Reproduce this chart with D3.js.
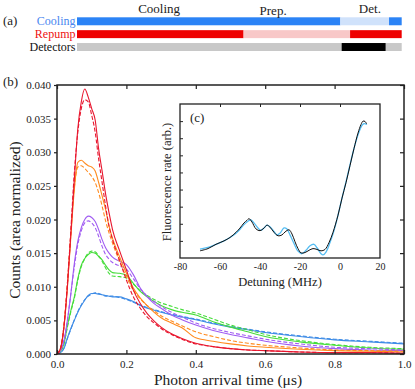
<!DOCTYPE html>
<html>
<head>
<meta charset="utf-8">
<script src="https://cdn.jsdelivr.net/npm/d3@7"></script>
<style>
  body { margin: 0; background: #fff; }
  svg { display: block; }
  svg text { font-family: "Liberation Serif", "DejaVu Serif", serif; }
</style>
</head>
<body>
<div id="chart"></div>
<script>
// ---- (a) timing sequence, in % of the cycle ----
const seqRows = ['Cooling', 'Repump', 'Detectors'];
const coolingSegs = [[0, 81.1, 'on'], [81.1, 96.1, 'off'], [96.1, 100, 'on']];
const repumpSegs = [[0, 51.3, 'on'], [51.3, 84.1, 'off'], [84.1, 100, 'on']];
const detectorSegs = [[0, 81.5, 'off'], [81.5, 95.1, 'on'], [95.1, 100, 'off']];
const phaseNames = ['Cooling', 'Prep.', 'Det.'];
const phaseCenters = [25.3, 60.4, 90.2];

// ---- (b) arrival-time histograms ----
const tGrid = [0, 0.01, 0.02, 0.03, 0.04, 0.05, 0.06, 0.07, 0.08, 0.09, 0.10, 0.11, 0.12, 0.13, 0.14, 0.15, 0.16, 0.18,
    0.20, 0.22, 0.24, 0.26, 0.28, 0.30, 0.33, 0.36, 0.40, 0.45, 0.50, 0.55, 0.60, 0.70, 0.80, 0.90, 1.00];

const blueSolid = [0, .0002, .0008, .0024, .0038, .0050, .0062, .0072, .0080, .0087, .0090, .0090, .0089, .0088, .0087, .0086,
    .0085, .0085, .0082, .0078, .0072, .0068, .0065, .0062, .0058, .0055, .0051, .0045, .0040, .0036, .0032, .0026, .0021, .0018, .0015];
const blueDashed = [0, .0002, .0009, .0023, .0037, .0051, .0063, .0073, .0081, .0086, .0089, .0091, .0090, .0088, .0086, .0086,
    .0086, .0084, .0081, .0077, .0073, .0069, .0066, .0063, .0059, .0056, .0052, .0046, .0041, .0037, .0033, .0027, .0022, .0019, .0016];
const greenSolid = [0, .0004, .0015, .0042, .0065, .0085, .0112, .0132, .0142, .0148, .0151, .0150, .0145, .0140, .0132, .0125,
    .0121, .0120, .0117, .0105, .0093, .0085, .0078, .0072, .0066, .0062, .0058, .0048, .0040, .0033, .0026, .0018, .0013, .0009, .0007];
const greenDashed = [0, .0004, .0015, .0040, .0063, .0083, .0110, .0130, .0142, .0150, .0153, .0152, .0146, .0138, .0128, .0120,
    .0116, .0115, .0113, .0104, .0094, .0087, .0081, .0076, .0071, .0066, .0061, .0052, .0043, .0036, .0029, .0020, .0014, .0010, .0008];
const purpleSolid = [0, .0005, .0020, .0050, .0090, .0135, .0168, .0188, .0200, .0205, .0203, .0197, .0185, .0170, .0158, .0150,
    .0144, .0138, .0133, .0118, .0098, .0085, .0075, .0068, .0058, .0051, .0043, .0035, .0029, .0024, .0019, .0012, .0008, .0006, .0005];
const purpleDashed = [0, .0005, .0020, .0050, .0090, .0130, .0163, .0183, .0195, .0198, .0195, .0188, .0175, .0160, .0148, .0141,
    .0136, .0131, .0126, .0112, .0097, .0086, .0078, .0071, .0062, .0055, .0046, .0038, .0032, .0027, .0022, .0015, .0010, .0008, .0006];
const orangeSolid = [0, .0008, .0040, .0100, .0175, .0245, .0285, .0288, .0284, .0280, .0278, .0272, .0255, .0235, .0215, .0190,
    .0172, .0145, .0120, .0098, .0083, .0072, .0062, .0054, .0046, .0039, .0024, .0019, .0015, .0012, .0010, .0007, .0005, .0004, .0003];
const orangeDashed = [0, .0008, .0042, .0105, .0180, .0248, .0278, .0280, .0276, .0270, .0264, .0255, .0240, .0220, .0198, .0180,
    .0165, .0138, .0115, .0095, .0082, .0072, .0064, .0057, .0049, .0042, .0033, .0026, .0020, .0016, .0013, .0009, .0006, .0005, .0004];
const redSolid = [0, .0008, .0040, .0100, .0180, .0260, .0335, .0375, .0394, .0382, .0365, .0348, .0305, .0272, .0238, .0210,
    .0185, .0154, .0125, .0095, .0075, .0060, .0049, .0040, .0030, .0023, .0016, .0011, .0008, .0006, .0005, .0003, .0002, .0002, .0001];
const redDashed = [0, .0008, .0042, .0105, .0185, .0270, .0330, .0365, .0378, .0375, .0355, .0330, .0290, .0255, .0220, .0190,
    .0170, .0140, .0110, .0085, .0068, .0055, .0046, .0038, .0029, .0022, .0015, .0011, .0008, .0006, .0005, .0003, .0002, .0002, .0001];

const seriesColors = ['#3d8be6', '#45dd3a', '#a05cf2', '#ff8a1e', '#e8162e'];
const seriesSolid = [blueSolid, greenSolid, purpleSolid, orangeSolid, redSolid];
const seriesDashed = [blueDashed, greenDashed, purpleDashed, orangeDashed, redDashed];

const xTicks = [0, 0.2, 0.4, 0.6, 0.8, 1.0];
const yTicks = [0, 0.005, 0.01, 0.015, 0.02, 0.025, 0.03, 0.035, 0.04];

// ---- (c) fluorescence vs detuning ----
const exptDet = [-70, -66, -62, -58, -55, -52, -50, -48, -46.5, -45.5, -44, -42, -40, -38, -36.5, -35, -33, -31, -29, -27.5,
    -25.5, -24, -22.5, -21, -19.5, -17.5, -15.5, -13.5, -11.5, -9.5, -7.5, -5.5, -3.5, -1, 1, 3, 5, 7, 9, 10.5, 11.5, 12.5, 13.3];
const exptRate = [.42, .55, .80, 1.0, 1.2, 1.5, 1.75, 2.05, 2.2, 2.3, 2.1, 1.7, 1.6, 1.75, 1.92, 1.8, 1.5, 1.3, 1.35, 1.52,
    1.65, 1.4, .95, .55, .3, .32, .45, .55, .5, .42, .5, .9, 1.5, 2.5, 3.5, 4.4, 5.4, 6.4, 7.3, 7.8, 8.0, 7.98, 7.84];
const theoryDet = [-70, -66, -62, -58, -55, -52, -50, -48, -46, -44.5, -43, -41, -39.5, -38, -36.5, -35, -33, -31.5, -30, -28,
    -26.5, -25, -23, -21, -19, -17, -15, -13, -11.5, -9.5, -8.5, -7, -5, -3, -1, 1, 3, 5, 7, 9, 11, 12, 13.5];
const theoryRate = [.52, .62, .80, 1.0, 1.2, 1.45, 1.68, 1.95, 2.15, 2.23, 2.05, 1.75, 1.62, 1.75, 1.92, 1.82, 1.55, 1.35, 1.45, 1.76,
    1.7, 1.35, .85, .4, .25, .45, .72, .8, .6, .25, .18, .35, .9, 1.6, 2.5, 3.5, 4.45, 5.45, 6.4, 7.2, 7.75, 7.85, 7.8];
const insetXTicks = [-80, -60, -40, -20, 0, 20];
const insetYTicks = [1, 2, 3, 4, 5, 6, 7, 8];

const W = 415, H = 389;
const FONT = '"Liberation Serif", "DejaVu Serif", serif';
const svg = d3.select('#chart').append('svg').attr('width', W).attr('height', H).attr('font-family', FONT);
const ink = '#222';

// ================= (a) =================
const seqX = d3.scaleLinear().domain([0, 100]).range([77, 401.7]);
const rowY = d3.scaleBand().domain(seqRows).range([17.3, 51]).paddingInner(0.38);
const rowColors = {
    Cooling: { on: '#2b83f6', off: '#d0e2fb', label: '#4a86f0' },
    Repump: { on: '#ee0000', off: '#f8c8c8', label: '#ee1010' },
    Detectors: { on: '#000000', off: '#c8c8c8', label: '#111' },
};
const rowSegs = { Cooling: coolingSegs, Repump: repumpSegs, Detectors: detectorSegs };

svg.append('text').attr('x', 3).attr('y', 25).attr('font-size', 13).attr('fill', ink).text('(a)');

seqRows.forEach((r) => {
    const g = svg.append('g');
    g.selectAll('rect')
        .data(rowSegs[r])
        .enter()
        .append('rect')
        .attr('x', (d) => seqX(d[0]))
        .attr('width', (d) => seqX(d[1]) - seqX(d[0]))
        .attr('y', rowY(r))
        .attr('height', rowY.bandwidth())
        .attr('fill', (d) => rowColors[r][d[2]]);
    g.append('text')
        .attr('x', 75.5)
        .attr('y', rowY(r) + rowY.bandwidth() - 0.5)
        .attr('text-anchor', 'end')
        .attr('font-size', 12)
        .attr('fill', rowColors[r].label)
        .text(r);
});

svg.selectAll('.phase')
    .data(phaseNames)
    .enter()
    .append('text')
    .attr('class', 'phase')
    .attr('x', (d, i) => seqX(phaseCenters[i]))
    .attr('y', (d, i) => (i === 1 ? 15 : 12.5))
    .attr('text-anchor', 'middle')
    .attr('font-size', 13)
    .attr('fill', ink)
    .text((d) => d);

// ================= (b) =================
const x = d3.scaleLinear().domain([0, 1]).range([57, 404]);
const y = d3.scaleLinear().domain([0, 0.04]).range([354, 85]);

svg.append('text').attr('x', 3).attr('y', 86).attr('font-size', 13).attr('fill', ink).text('(b)');

const line = d3
    .line()
    .x((d, i) => x(tGrid[i]))
    .y((d) => y(d))
    .curve(d3.curveMonotoneX);

const curves = svg.append('g');
seriesColors.forEach((c, k) => {
    curves.append('path').attr('d', line(seriesDashed[k])).attr('fill', 'none').attr('stroke', c)
        .attr('stroke-width', 1.1).attr('stroke-dasharray', '4,2');
    curves.append('path').attr('d', line(seriesSolid[k])).attr('fill', 'none').attr('stroke', c)
        .attr('stroke-width', 1.1);
});

// axes: left ticks outward, others inward
const axB = svg.append('g').attr('transform', 'translate(0,354)')
    .call(d3.axisBottom(x).tickValues(xTicks).tickFormat(d3.format('.1f')).tickSizeInner(-4).tickSizeOuter(0).tickPadding(6));
const axT = svg.append('g').attr('transform', 'translate(0,85)')
    .call(d3.axisTop(x).tickValues(xTicks).tickFormat('').tickSizeInner(-4).tickSizeOuter(0));
const axL = svg.append('g').attr('transform', 'translate(57,0)')
    .call(d3.axisLeft(y).tickValues(yTicks).tickFormat(d3.format('.3f')).tickSizeInner(3).tickSizeOuter(0).tickPadding(3));
const axR = svg.append('g').attr('transform', 'translate(404,0)')
    .call(d3.axisRight(y).tickValues(yTicks).tickFormat('').tickSizeInner(-4).tickSizeOuter(0));
[axB, axT, axL, axR].forEach((a) => {
    a.attr('font-family', FONT);
    a.select('.domain').remove();
    a.selectAll('line').attr('stroke', ink).attr('stroke-width', 1.2);
    a.selectAll('text').attr('font-size', 11).attr('fill', ink);
});

svg.append('rect').attr('x', 57).attr('y', 85).attr('width', 347).attr('height', 269)
    .attr('fill', 'none').attr('stroke', ink).attr('stroke-width', 1.5);

svg.append('text').attr('x', 228).attr('y', 385).attr('text-anchor', 'middle')
    .attr('font-size', 15.5).attr('fill', ink).text('Photon arrival time (\u03bcs)');
svg.append('text').attr('transform', 'translate(20,220) rotate(-90)').attr('text-anchor', 'middle')
    .attr('font-size', 15.5).attr('fill', ink).text('Counts (area normalized)');

// ================= (c) inset =================
const ix = d3.scaleLinear().domain([-80, 20]).range([180, 380]);
const iy = d3.scaleLinear().domain([0, 9]).range([258, 104]);

svg.append('rect').attr('x', 180).attr('y', 104).attr('width', 200).attr('height', 154).attr('fill', '#fff');

const iLine = d3.line().curve(d3.curveCatmullRom);
svg.append('path')
    .attr('d', iLine(theoryDet.map((d, i) => [ix(d), iy(theoryRate[i])])))
    .attr('fill', 'none').attr('stroke', '#55bdf2').attr('stroke-width', 1.3);
svg.append('path')
    .attr('d', iLine(exptDet.map((d, i) => [ix(d), iy(exptRate[i])])))
    .attr('fill', 'none').attr('stroke', '#111').attr('stroke-width', 1);

const iB = svg.append('g').attr('transform', 'translate(0,258)')
    .call(d3.axisBottom(ix).tickValues(insetXTicks).tickFormat((d) => String(d)).tickSize(0).tickPadding(5));
const iT = svg.append('g').attr('transform', 'translate(0,104)')
    .call(d3.axisTop(ix).tickValues(insetXTicks.slice(1, -1)).tickFormat('').tickSizeInner(-3).tickSizeOuter(0));
const iL = svg.append('g').attr('transform', 'translate(180,0)')
    .call(d3.axisLeft(iy).tickValues(insetYTicks).tickFormat('').tickSizeInner(-3).tickSizeOuter(0));
[iB, iT, iL].forEach((a) => {
    a.attr('font-family', FONT);
    a.select('.domain').remove();
    a.selectAll('line').attr('stroke', ink).attr('stroke-width', 1);
    a.selectAll('text').attr('font-size', 10).attr('fill', ink);
});
svg.append('rect').attr('x', 180).attr('y', 104).attr('width', 200).attr('height', 154)
    .attr('fill', 'none').attr('stroke', ink).attr('stroke-width', 1.3);

svg.append('text').attr('x', 190).attr('y', 122).attr('font-size', 13).attr('fill', ink).text('(c)');
svg.append('text').attr('x', 280).attr('y', 286).attr('text-anchor', 'middle')
    .attr('font-size', 12.5).attr('fill', ink).text('Detuning (MHz)');
svg.append('text').attr('transform', 'translate(171,182) rotate(-90)').attr('text-anchor', 'middle')
    .attr('font-size', 12.5).attr('fill', ink).text('Fluorescence rate (arb.)');
</script>
</body>
</html>
